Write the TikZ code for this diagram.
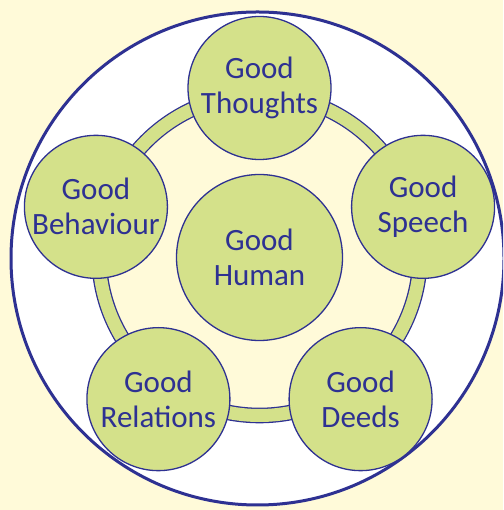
\documentclass[tikz,border=0pt]{standalone}
\usepackage{fontspec}
\setmainfont{Carlito}
\definecolor{ink}{HTML}{2E3192}
\definecolor{leaf}{HTML}{D4E18A}
\definecolor{cream}{HTML}{FFFAD9}
\tikzset{
  petal/.style={circle, draw=ink, fill=leaf, line width=1.3pt,
    minimum size=143pt, inner sep=0pt},
  words/.style={text=ink, align=center, font=\fontsize{31}{35}\selectfont}
}
\begin{document}
\begin{tikzpicture}[x=1pt,y=1pt]
\fill[cream] (0,0) rectangle (503,510);
\useasboundingbox (0,0) rectangle (503,510);
\clip (0,0) rectangle (503,510);
% outer frame
\draw[ink, fill=white, line width=3pt] (257.5,251.5) circle (246.5);
% ring through the five circles
\coordinate (hub) at (259.5,250);
\fill[cream] (259.5,255) circle (160);
\draw[ink, line width=1.3pt, double=leaf, double distance=13pt] (259.5,255) circle (160.5);
% the five circles
\node[petal, label={[words]center:Good\\Thoughts}] (thoughts) at ([shift={(90:172)}]hub) {};
\node[petal, label={[words]center:Good\\Speech}] (speech) at ([shift={(18:172)}]hub) {};
\node[petal, label={[words]center:Good\\Deeds}] (deeds) at ([shift={(-54:172)}]hub) {};
\node[petal, label={[words]center:Good\\Relations}] (relations) at ([shift={(-126:172)}]hub) {};
\node[petal, label={[words]center:Good\\Behaviour}] (behaviour) at ([shift={(162:172)}]hub) {};
% centre
\node[petal, minimum size=166pt, label={[words]center:Good\\Human}] (human) at (259.5,252.5) {};
\end{tikzpicture}
\end{document}
